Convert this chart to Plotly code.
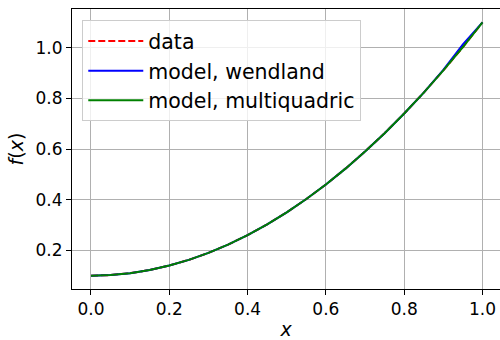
import plotly.graph_objects as go

# sample points
x_vals = [0.0, 0.05, 0.1, 0.15, 0.2, 0.25, 0.3, 0.35, 0.4, 0.45, 0.5,
          0.55, 0.6, 0.65, 0.7, 0.75, 0.8, 0.85, 0.9, 0.95, 1.0]
data_vals = [0.1, 0.1025, 0.11, 0.1225, 0.14, 0.1625, 0.19, 0.2225, 0.26, 0.3025, 0.35,
             0.4025, 0.46, 0.5225, 0.59, 0.6625, 0.74, 0.8225, 0.91, 1.0025, 1.1]
wendland_vals = [0.1, 0.1025, 0.11, 0.1225, 0.14, 0.1625, 0.19, 0.2225, 0.26, 0.3025, 0.35,
                 0.4025, 0.46, 0.5225, 0.59, 0.6625, 0.74, 0.8225, 0.912, 1.013, 1.1]
multiquadric_vals = [0.1, 0.1025, 0.11, 0.1225, 0.14, 0.1625, 0.19, 0.2225, 0.26, 0.3025, 0.35,
                     0.4025, 0.46, 0.5225, 0.59, 0.6625, 0.74, 0.8225, 0.91, 1.0025, 1.1]

fig = go.Figure()
fig.add_trace(go.Scatter(x=x_vals, y=data_vals, mode="lines", name="data",
                         line=dict(color="red", width=2, dash="7px,3px")))
fig.add_trace(go.Scatter(x=x_vals, y=wendland_vals, mode="lines", name="model, wendland",
                         line=dict(color="blue", width=2)))
fig.add_trace(go.Scatter(x=x_vals, y=multiquadric_vals, mode="lines", name="model, multiquadric",
                         line=dict(color="green", width=2)))

axis_style = dict(
    showline=True, linecolor="black", linewidth=1, mirror=True,
    showgrid=True, gridcolor="#b0b0b0", gridwidth=1,
    ticks="outside", ticklen=5, tickcolor="black",
    zeroline=False, tickfont=dict(size=17, color="black"),
    automargin=False,
)

fig.update_layout(
    width=500, height=340,
    margin=dict(l=72, r=0, t=9, b=51),
    plot_bgcolor="white", paper_bgcolor="white",
    font=dict(family="DejaVu Sans", color="black"),
    showlegend=True,
    legend=dict(x=0.024, y=0.96, xanchor="left", yanchor="top", itemwidth=55,
                bgcolor="rgba(255,255,255,0.8)", bordercolor="#cccccc", borderwidth=1,
                font=dict(size=20.5)),
)
fig.update_xaxes(range=[-0.0485, 1.0447], tickvals=[0.0, 0.2, 0.4, 0.6, 0.8, 1.0],
                 ticktext=["0.0", "0.2", "0.4", "0.6", "0.8", "1.0"],
                 title=dict(text="<i>x</i>", font=dict(size=19), standoff=4), **axis_style)
fig.update_yaxes(range=[0.0475, 1.1525], tickvals=[0.2, 0.4, 0.6, 0.8, 1.0],
                 ticktext=["0.2", "0.4", "0.6", "0.8", "1.0"],
                 title=dict(text="<i>f</i>(<i>x</i>)", font=dict(size=19), standoff=6), **axis_style)

# drop the default page margin so the 500x340 figure fills the window
fig.write_html("out.html", config={"displayModeBar": False},
               post_script="document.body.style.margin='0';")
